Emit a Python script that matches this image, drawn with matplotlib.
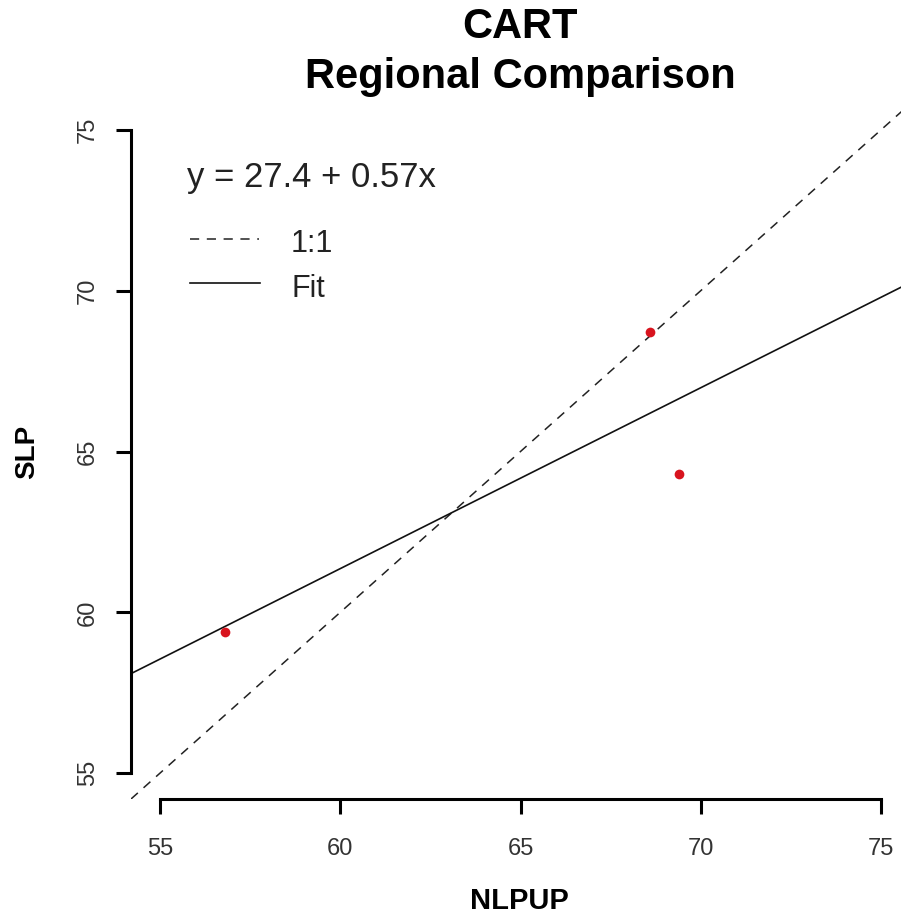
import numpy as np
import matplotlib
matplotlib.use("Agg")
import matplotlib.pyplot as plt
from matplotlib.lines import Line2D

plt.rcParams['font.family'] = ['Liberation Sans', 'DejaVu Sans']

# Data
nlpup = [56.8, 68.6, 69.4]
slp = [59.4, 68.7, 64.3]
xticks = [55, 60, 65, 70, 75]
yticks = [55, 60, 65, 70, 75]
title = "CART\nRegional Comparison"
xlabel = "NLPUP"
ylabel = "SLP"
equation = "y = 27.4 + 0.57x"
legend_labels = ["1:1", "Fit"]

W, H = 901, 917
fig = plt.figure(figsize=(W / 100, H / 100), dpi=100)

def fx(px):
    return px / W

def fy(py):
    return 1 - py / H

left, right, top, bottom = 131, 910, 104, 799
ax = fig.add_axes([fx(left), fy(bottom), (right - left) / W, (bottom - top) / H])
ax.set_xlim(54.2, 75.8)
ax.set_ylim(54.2, 75.8)

# 1:1 line
ax.axline((60, 60), slope=1, color='#222222', lw=1.1, dashes=(6, 5))
# Fit line
b, a = np.polyfit(nlpup, slp, 1)
ax.axline((60, a + b * 60), slope=b, color='#111111', lw=1.2)
# Points
ax.plot(nlpup, slp, 'o', color='#d8141e', markersize=7, markeredgewidth=0, zorder=5)

for s in ['top', 'right']:
    ax.spines[s].set_visible(False)
for s in ['left', 'bottom']:
    ax.spines[s].set_linewidth(2.2)
    ax.spines[s].set_bounds(55, 75)
    ax.spines[s].set_color('black')

ax.set_xticks(xticks)
ax.set_yticks(yticks)
ax.tick_params(axis='both', length=11, width=2.2, color='black', labelsize=17,
               labelcolor='#333333')
ax.tick_params(axis='x', pad=17)
ax.tick_params(axis='y', pad=12)
for lab in ax.get_yticklabels():
    lab.set_rotation(90)
    lab.set_va('center')

fig.text(fx(520), fy(27), "CART", ha='center', va='center', fontsize=30, fontweight='bold')
fig.text(fx(520), fy(77), "Regional Comparison", ha='center', va='center', fontsize=30, fontweight='bold')
fig.text(fx(519), fy(901), xlabel, ha='center', va='center', fontsize=21, fontweight='bold')
fig.text(fx(27), fy(452), ylabel, ha='center', va='center', fontsize=20, fontweight='bold', rotation=90)

# Legend
fig.text(fx(187), fy(187), equation, ha='left', va='baseline', fontsize=25, color='#222222')
fig.add_artist(Line2D([fx(190), fx(259)], [fy(239), fy(239)], color='#222222', lw=1.1, dashes=(6, 5)))
fig.add_artist(Line2D([fx(190), fx(260)], [fy(283), fy(283)], color='#111111', lw=1.2))
fig.text(fx(291), fy(252), legend_labels[0], ha='left', va='baseline', fontsize=22, color='#222222')
fig.text(fx(291), fy(297), legend_labels[1], ha='left', va='baseline', fontsize=22, color='#222222')

fig.savefig("out.png", dpi=100)
